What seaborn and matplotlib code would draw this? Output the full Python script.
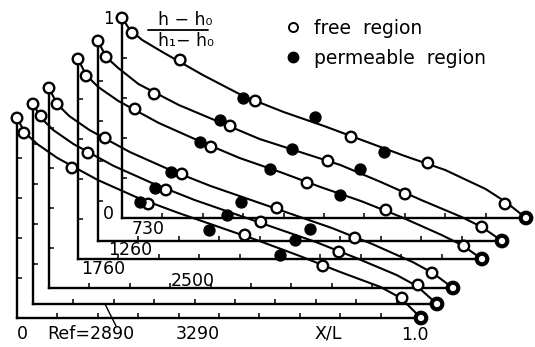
import numpy as np
import pandas as pd
import matplotlib
matplotlib.use("Agg")
import matplotlib.pyplot as plt
import seaborn as sns
from matplotlib.lines import Line2D

sns.set_style("ticks")
plt.rcParams['font.family'] = ['DejaVu Sans']
plt.rcParams['text.color'] = 'black'

# ---------------- data ----------------
RE_LABELS = ["730", "1260", "1760", "2500", "2890", "3290"]

CURVE_X = [0.0, 0.02, 0.05, 0.1, 0.2, 0.3, 0.4, 0.5, 0.6, 0.7, 0.8, 0.9, 0.95, 1.0]
CURVE_730 = [1.0, 0.94, 0.89, 0.83, 0.715, 0.61, 0.53, 0.46, 0.385, 0.31, 0.24, 0.145, 0.08, 0.0]
CURVE_1260 = [1.0, 0.92, 0.865, 0.785, 0.68, 0.595, 0.51, 0.445, 0.38, 0.295, 0.205, 0.12, 0.07, 0.0]
CURVE_1760 = [1.0, 0.92, 0.86, 0.79, 0.68, 0.59, 0.505, 0.435, 0.36, 0.29, 0.21, 0.12, 0.07, 0.0]
CURVE_2500 = [1.0, 0.92, 0.86, 0.79, 0.68, 0.59, 0.51, 0.44, 0.37, 0.30, 0.22, 0.13, 0.075, 0.0]
CURVE_2890 = [1.0, 0.93, 0.87, 0.80, 0.69, 0.60, 0.52, 0.45, 0.38, 0.31, 0.23, 0.145, 0.09, 0.0]
CURVE_3290 = [1.0, 0.925, 0.87, 0.80, 0.69, 0.60, 0.525, 0.455, 0.385, 0.31, 0.23, 0.155, 0.10, 0.0]

FREE_X_730 = [0.0, 0.025, 0.144, 0.33, 0.567, 0.757, 0.948, 1.0]
FREE_Y_730 = [1.0, 0.925, 0.79, 0.585, 0.405, 0.275, 0.07, 0.0]
PERM_X_730 = [0.30, 0.478, 0.649]
PERM_Y_730 = [0.60, 0.505, 0.33]

FREE_X_1260 = [0.0, 0.02, 0.139, 0.327, 0.569, 0.76, 0.95, 1.0]
FREE_Y_1260 = [1.0, 0.92, 0.735, 0.575, 0.40, 0.235, 0.07, 0.0]
PERM_X_1260 = [0.302, 0.48, 0.649]
PERM_Y_1260 = [0.605, 0.46, 0.36]

FREE_X_1760 = [0.0, 0.02, 0.141, 0.329, 0.567, 0.762, 0.955, 1.0]
FREE_Y_1760 = [1.0, 0.915, 0.75, 0.56, 0.38, 0.245, 0.065, 0.0]
PERM_X_1760 = [0.302, 0.475, 0.649]
PERM_Y_1760 = [0.585, 0.45, 0.32]

FREE_X_2500 = [0.0, 0.02, 0.139, 0.329, 0.564, 0.757, 0.948, 1.0]
FREE_Y_2500 = [1.0, 0.92, 0.75, 0.57, 0.40, 0.25, 0.075, 0.0]
PERM_X_2500 = [0.302, 0.475, 0.646]
PERM_Y_2500 = [0.58, 0.43, 0.295]

FREE_X_2890 = [0.0, 0.02, 0.136, 0.329, 0.564, 0.757, 0.953, 1.0]
FREE_Y_2890 = [1.0, 0.94, 0.755, 0.57, 0.41, 0.26, 0.095, 0.0]
PERM_X_2890 = [0.302, 0.48, 0.649]
PERM_Y_2890 = [0.58, 0.445, 0.32]

FREE_X_3290 = [0.0, 0.017, 0.136, 0.325, 0.564, 0.757, 0.953, 1.0]
FREE_Y_3290 = [1.0, 0.925, 0.75, 0.57, 0.415, 0.26, 0.10, 0.0]
PERM_X_3290 = [0.304, 0.475, 0.651]
PERM_Y_3290 = [0.58, 0.44, 0.315]

CURVES = [CURVE_730, CURVE_1260, CURVE_1760, CURVE_2500, CURVE_2890, CURVE_3290]
FREE = [(FREE_X_730, FREE_Y_730), (FREE_X_1260, FREE_Y_1260), (FREE_X_1760, FREE_Y_1760),
        (FREE_X_2500, FREE_Y_2500), (FREE_X_2890, FREE_Y_2890), (FREE_X_3290, FREE_Y_3290)]
PERM = [(PERM_X_730, PERM_Y_730), (PERM_X_1260, PERM_Y_1260), (PERM_X_1760, PERM_Y_1760),
        (PERM_X_2500, PERM_Y_2500), (PERM_X_2890, PERM_Y_2890), (PERM_X_3290, PERM_Y_3290)]

X_TICKS = [0.1, 0.2, 0.3, 0.4, 0.5, 0.6, 0.7, 0.8, 0.9]
Y_TICKS = [0.2, 0.4, 0.6, 0.8]

# ---------------- layout (pixels) ----------------
W_PX, H_PX = 535, 347
FRAME_ORIGINS = [(122, 218), (98, 241), (78, 259), (49, 288), (33, 304), (17, 318)]
FRAME_W, FRAME_H = 404, 200

fig = plt.figure(figsize=(W_PX / 100, H_PX / 100), dpi=100)
fig.patch.set_facecolor("white")

for i in range(len(RE_LABELS)):
    x0, y0 = FRAME_ORIGINS[i]
    ax = fig.add_axes([x0 / W_PX, 1 - y0 / H_PX, FRAME_W / W_PX, FRAME_H / H_PX])
    ax.patch.set_alpha(0)
    curve_df = pd.DataFrame({"x": CURVE_X, "y": CURVES[i]})
    sns.lineplot(data=curve_df, x="x", y="y", ax=ax, color="black", lw=1.5,
                 sort=False, zorder=2)
    fx, fy = FREE[i]
    free_df = pd.DataFrame({"x": fx, "y": fy})
    lws = [3.0 if v >= 1.0 else 1.7 for v in fx]
    sns.scatterplot(data=free_df, x="x", y="y", ax=ax, s=58, facecolor="white",
                    edgecolor="black", linewidths=lws, zorder=4, clip_on=False)
    px, py = PERM[i]
    perm_df = pd.DataFrame({"x": px, "y": py})
    sns.scatterplot(data=perm_df, x="x", y="y", ax=ax, s=62, color="black",
                    edgecolor="black", linewidth=1.0, zorder=4, clip_on=False)
    ax.set_xlim(0, 1)
    ax.set_ylim(0, 1)
    ax.set_xticks(X_TICKS)
    ax.set_yticks(Y_TICKS)
    ax.tick_params(direction="in", length=3.5, width=1.1, color="black",
                   labelbottom=False, labelleft=False)
    for side in ("top", "right"):
        ax.spines[side].set_visible(False)
    for side in ("left", "bottom"):
        ax.spines[side].set_linewidth(1.7)
        ax.spines[side].set_color("black")
    ax.set_xlabel("")
    ax.set_ylabel("")

# ---------------- annotation overlay (pixel coords) ----------------
ov = fig.add_axes([0, 0, 1, 1])
ov.set_xlim(0, W_PX)
ov.set_ylim(H_PX, 0)
ov.axis("off")
ov.patch.set_alpha(0)

num_fs = 12.5
ov.text(108, 19, "1", fontsize=12, ha="center", va="center")
ov.text(108, 214, "0", fontsize=num_fs, ha="center", va="center")
ov.text(148, 229, RE_LABELS[0], fontsize=num_fs, ha="center", va="center")
ov.text(130, 250, RE_LABELS[1], fontsize=num_fs, ha="center", va="center")
ov.text(103, 269, RE_LABELS[2], fontsize=num_fs, ha="center", va="center")
ov.text(193, 281, RE_LABELS[3], fontsize=num_fs, ha="center", va="center")
ov.text(22, 334, "0", fontsize=num_fs, ha="center", va="center")
ov.text(91, 334, "Ref=" + RE_LABELS[4], fontsize=num_fs, ha="center", va="center")
ov.text(198, 334, RE_LABELS[5], fontsize=num_fs, ha="center", va="center")
ov.text(328, 334, "X/L", fontsize=num_fs, ha="center", va="center")
ov.text(415, 335, "1.0", fontsize=num_fs, ha="center", va="center")

# pointer from Re=2890 label to its frame
ov.add_line(Line2D([105, 116], [304, 326], color="black", lw=1.0))

# fraction label
ov.text(185, 20, "h − h₀", fontsize=12.5, ha="center", va="center")
ov.add_line(Line2D([148, 208], [29.5, 29.5], color="black", lw=1.3))
ov.text(186, 41, "h₁− h₀", fontsize=12.5, ha="center", va="center")

# legend
handles = [Line2D([], [], ls="none", marker="o", markersize=6.5, markerfacecolor="white",
                  markeredgecolor="black", markeredgewidth=1.4),
           Line2D([], [], ls="none", marker="o", markersize=7.5, markerfacecolor="black",
                  markeredgecolor="black")]
fig.legend(handles, ["free  region", "permeable  region"], loc="upper left",
           bbox_to_anchor=(276 / W_PX, 1 - 11 / H_PX), frameon=False, fontsize=13.5,
           handletextpad=0.6, labelspacing=0.6, handlelength=1.0, borderaxespad=0,
           labelcolor="black")

fig.savefig("out.png", dpi=100, facecolor="white")
